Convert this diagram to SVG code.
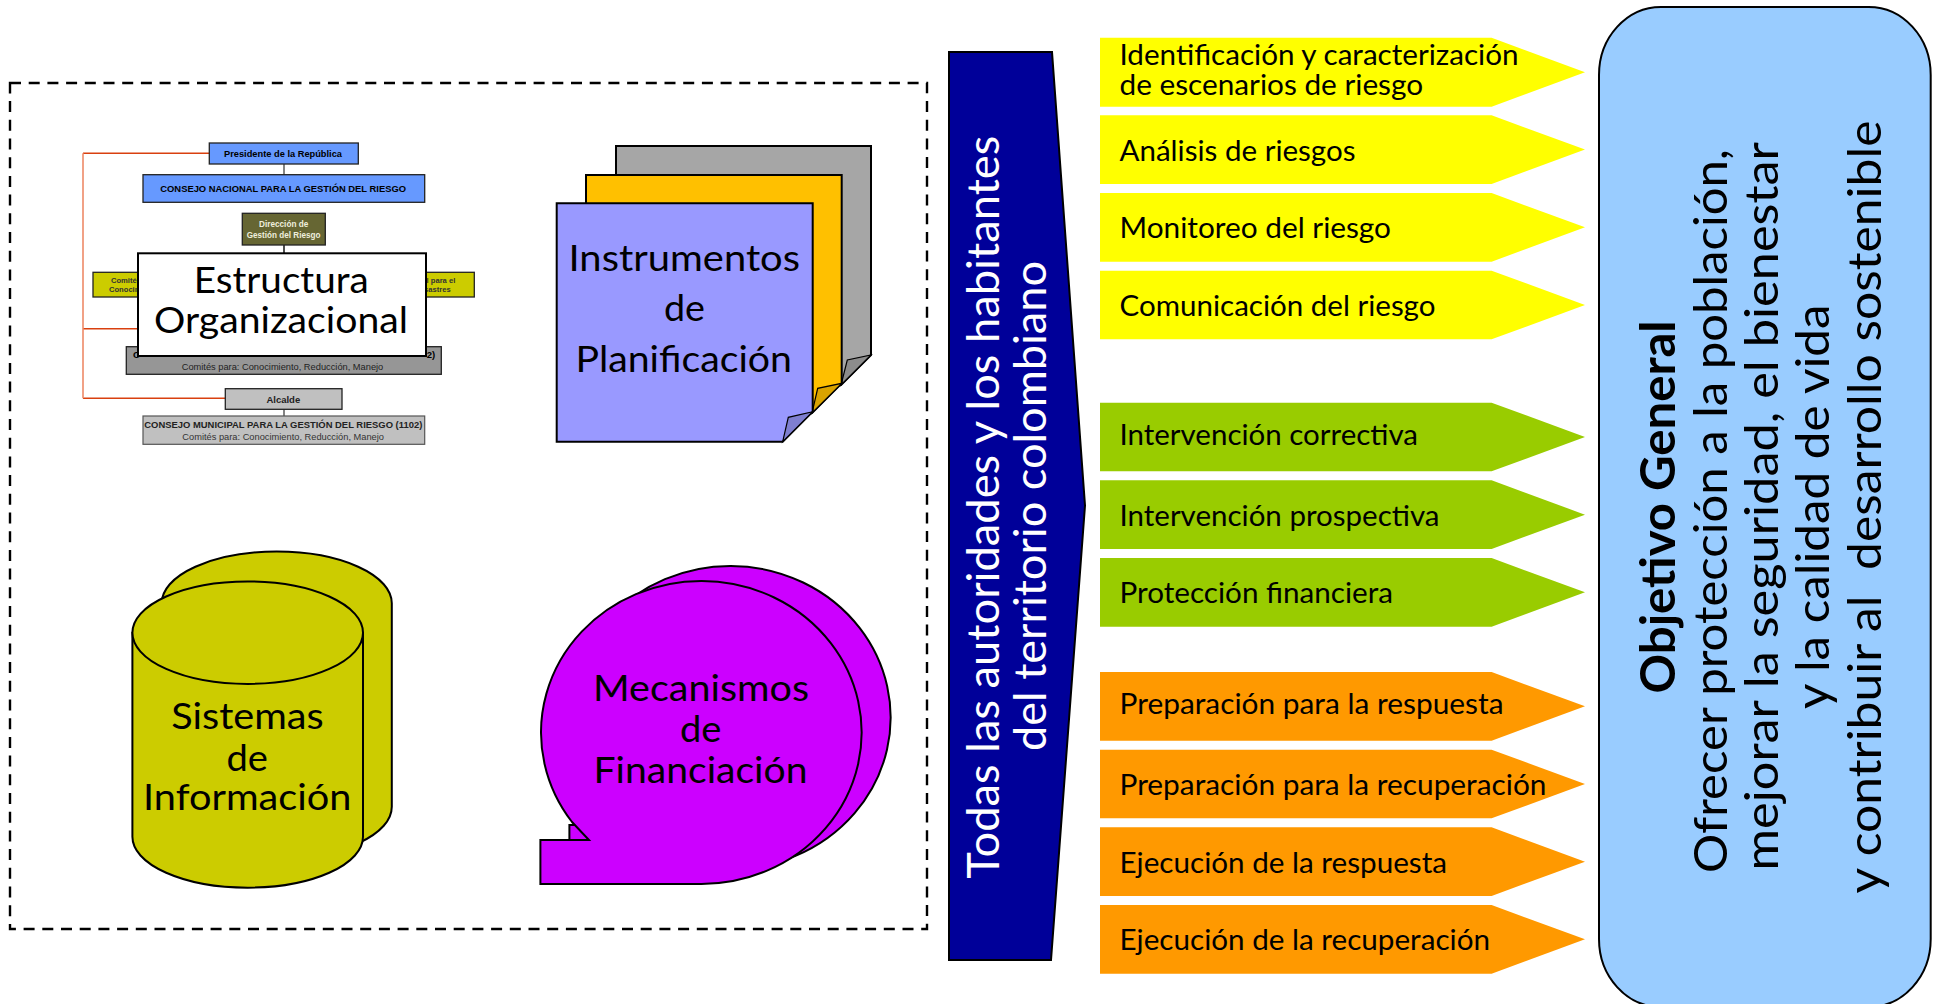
<svg xmlns="http://www.w3.org/2000/svg" width="1936" height="1004" viewBox="0 0 1936 1004">
<style>
text{font-family:"Lato","Carlito","Open Sans",sans-serif;fill:#000;white-space:pre}
.ol{stroke:#000;stroke-width:2}
.org text{font-family:"Liberation Sans",Arial,sans-serif}
.b{font-weight:700}
.s9{font-size:9.5px}
.s8{font-size:8.5px}
.big{font-size:37px}
.ar{font-size:29px}
.wh{font-size:45px;fill:#fff}
.ob{font-size:47px}
.box{stroke:#222;stroke-width:1.3}
.y{fill:#FFFF00}.g{fill:#99CC00}.o{fill:#FF9900}
</style>
<rect width="1936" height="1004" fill="#fff"/>
<rect id="dashed-frame" x="10" y="83" width="917" height="846" fill="none" stroke="#000" stroke-width="2.4" stroke-dasharray="11 7.7"/>

<g id="connectors" fill="none">
<path d="M83 153.3H209.3M83 328.7H138M83 398.3H225.3" stroke="#D9400F" stroke-width="1.4"/>
<path d="M83 153.3V398.3" stroke="#EE8A68" stroke-width="1.6"/>
<path d="M284 164V175M284 409V416" stroke="#666" stroke-width="1.6"/>
<path d="M284 245V254" stroke="#222" stroke-width="1.6"/>
</g>

<g id="org-chart" class="org">
<g id="presidente"><rect class="box" x="209.3" y="143" width="149" height="21" fill="#6699FF"/><text class="b s9" x="224" y="156.7" textLength="118" lengthAdjust="spacingAndGlyphs">Presidente de la República</text></g>
<g id="consejo-nacional"><rect class="box" x="143" y="174.7" width="281.7" height="27.6" fill="#6699FF"/><text class="b s9" x="160.3" y="192" textLength="245.7" lengthAdjust="spacingAndGlyphs">CONSEJO NACIONAL PARA LA GESTIÓN DEL RIESGO</text></g>
<g id="direccion"><rect class="box" x="242.3" y="213.3" width="83" height="31.7" fill="#666633"/><text class="b s8" x="259" y="227" textLength="49.3" lengthAdjust="spacingAndGlyphs" style="fill:#EEEEDD">Dirección de</text><text class="b s8" x="246.7" y="238" textLength="73.7" lengthAdjust="spacingAndGlyphs" style="fill:#EEEEDD">Gestión del Riesgo</text></g>
<g id="comites"><rect class="box" x="93" y="272.3" width="381.3" height="24.7" fill="#CCCC00"/><text class="b" font-size="7.6" x="111" y="283.3" style="fill:#333">Comité</text><text class="b" font-size="7.6" x="109" y="292" style="fill:#333">Conocim</text><text class="b" font-size="7.6" x="455.3" y="283.3" text-anchor="end" style="fill:#333">al para el</text><text class="b" font-size="7.6" x="450.7" y="292" text-anchor="end" style="fill:#333">sastres</text></g>
<g id="consejo-departamental"><rect class="box" x="126.3" y="346.7" width="315" height="27.6" fill="#969696"/><text class="b s9" x="133" y="358">C</text><text class="b s9" x="426.8" y="358">2)</text><text class="s9" x="181.7" y="370" textLength="201.6" lengthAdjust="spacingAndGlyphs" style="fill:#222">Comités para: Conocimiento, Reducción, Manejo</text></g>
<g id="alcalde"><rect class="box" x="225.3" y="388.7" width="116.7" height="20.6" fill="#C0C0C0"/><text class="b s9" x="283.3" y="403" text-anchor="middle" style="fill:#222">Alcalde</text></g>
<g id="consejo-municipal"><rect x="143" y="416" width="281.7" height="28.3" fill="#C0C0C0" stroke="#555" stroke-width="1.2"/><text class="b s9" x="144.3" y="428" textLength="278" lengthAdjust="spacingAndGlyphs" style="fill:#222">CONSEJO MUNICIPAL PARA LA GESTIÓN DEL RIESGO (1102)</text><text class="s9" x="182.3" y="440" textLength="201.7" lengthAdjust="spacingAndGlyphs" style="fill:#333">Comités para: Conocimiento, Reducción, Manejo</text></g>
</g>

<g id="estructura-organizacional">
<rect x="138" y="253.3" width="288" height="102.7" fill="#fff" class="ol"/>
<text class="big" x="193.7" y="292.7" textLength="175" lengthAdjust="spacingAndGlyphs">Estructura</text>
<text class="big" x="154" y="333.3" textLength="254" lengthAdjust="spacingAndGlyphs">Organizacional</text>
</g>

<g id="instrumentos-planificacion">
<path class="ol" fill="#A6A6A6" d="M616 146H871V355L841 385H616Z"/>
<path class="ol" fill="#8C8C8C" style="stroke-width:1.2" d="M841 385L847.3 360L871 355Z"/>
<path class="ol" fill="#FFC000" d="M586 175H841.7V383.3L812 413H586Z"/>
<path class="ol" fill="#D9A300" style="stroke-width:1.2" d="M812 413L817.7 388.3L841.7 383.3Z"/>
<path class="ol" fill="#9999FF" d="M556.7 203.3H812.7V411.7L782.7 441.7H556.7Z"/>
<path class="ol" fill="#7F7FD0" style="stroke-width:1.2" d="M782.7 441.7L788.3 417.3L812.7 411.7Z"/>
<text class="big" x="568.5" y="270.7" textLength="231.5" lengthAdjust="spacingAndGlyphs">Instrumentos</text>
<text class="big" x="664" y="321" textLength="41" lengthAdjust="spacingAndGlyphs">de</text>
<text class="big" x="575.5" y="372.3" textLength="216.5" lengthAdjust="spacingAndGlyphs">Planificación</text>
</g>

<g id="sistemas-informacion">
<path class="ol" fill="#CCCC00" d="M161.7 603.3A115 51.7 0 0 1 391.8 603.3V806.7A115 51.7 0 0 1 161.7 806.7Z"/>
<path class="ol" fill="#CCCC00" d="M132.4 632.7V836.7A115.3 51 0 0 0 363 836.7V632.7Z"/>
<ellipse class="ol" fill="#CCCC00" cx="247.7" cy="632.7" rx="115.3" ry="51.2"/>
<text class="big" x="171.2" y="729.3" textLength="152.5" lengthAdjust="spacingAndGlyphs">Sistemas</text>
<text class="big" x="226.5" y="770.7" textLength="41.5" lengthAdjust="spacingAndGlyphs">de</text>
<text class="big" x="143" y="810" textLength="208.5" lengthAdjust="spacingAndGlyphs">Información</text>
</g>

<g id="mecanismos-financiacion">
<path class="ol" fill="#CC00FF" d="M569.4 869V825H618L601 807A160.3 151.5 0 1 1 729.7 869Z"/>
<path class="ol" fill="#CC00FF" d="M540.4 884V840H589L572 822A160.3 151.5 0 1 1 700.7 884Z"/>
<text class="big" x="593" y="700.7" textLength="216" lengthAdjust="spacingAndGlyphs">Mecanismos</text>
<text class="big" x="680" y="742" textLength="41.5" lengthAdjust="spacingAndGlyphs">de</text>
<text class="big" x="593.5" y="783.3" textLength="214" lengthAdjust="spacingAndGlyphs">Financiación</text>
</g>

<g id="autoridades">
<path class="ol" fill="#000099" d="M949 52H1052L1085 505.5L1051 960H949Z"/>
<text class="wh" transform="translate(999 878.7) rotate(-90)" textLength="743" lengthAdjust="spacingAndGlyphs">Todas las autoridades y los habitantes</text>
<text class="wh" transform="translate(1045.7 751) rotate(-90)" textLength="490" lengthAdjust="spacingAndGlyphs">del territorio colombiano</text>
</g>

<g id="identificacion"><path class="y" d="M1100 37.7H1491.6L1585 72.2L1491.6 106.7H1100Z"/><text class="ar" x="1119.5" y="65" textLength="399" lengthAdjust="spacingAndGlyphs">Identificación y caracterización</text><text class="ar" x="1119.5" y="95" textLength="303.5" lengthAdjust="spacingAndGlyphs">de escenarios de riesgo</text></g>
<g id="analisis"><path class="y" d="M1100 115.3H1491.6L1585 149.6L1491.6 183.9H1100Z"/><text class="ar" x="1119.5" y="161" textLength="236" lengthAdjust="spacingAndGlyphs">Análisis de riesgos</text></g>
<g id="monitoreo"><path class="y" d="M1100 193H1491.6L1585 227.3L1491.6 261.7H1100Z"/><text class="ar" x="1119.5" y="238.3" textLength="271.5" lengthAdjust="spacingAndGlyphs">Monitoreo del riesgo</text></g>
<g id="comunicacion"><path class="y" d="M1100 270.7H1491.6L1585 305L1491.6 339.3H1100Z"/><text class="ar" x="1119.5" y="315.7" textLength="316" lengthAdjust="spacingAndGlyphs">Comunicación del riesgo</text></g>

<g id="correctiva"><path class="g" d="M1100 402.7H1491.6L1585 437L1491.6 471.3H1100Z"/><text class="ar" x="1119.5" y="445" textLength="298.5" lengthAdjust="spacingAndGlyphs">Intervención correctiva</text></g>
<g id="prospectiva"><path class="g" d="M1100 480.3H1491.6L1585 514.7L1491.6 549H1100Z"/><text class="ar" x="1119.5" y="525.5" textLength="320" lengthAdjust="spacingAndGlyphs">Intervención prospectiva</text></g>
<g id="financiera"><path class="g" d="M1100 558H1491.6L1585 592.3L1491.6 626.7H1100Z"/><text class="ar" x="1119.5" y="602.7" textLength="273.5" lengthAdjust="spacingAndGlyphs">Protección financiera</text></g>

<g id="prep-respuesta"><path class="o" d="M1100 672H1491.6L1585 706.3L1491.6 740.7H1100Z"/><text class="ar" x="1119.5" y="713.8" textLength="384" lengthAdjust="spacingAndGlyphs">Preparación para la respuesta</text></g>
<g id="prep-recuperacion"><path class="o" d="M1100 749.7H1491.6L1585 784L1491.6 818.3H1100Z"/><text class="ar" x="1119.5" y="794.8" textLength="427" lengthAdjust="spacingAndGlyphs">Preparación para la recuperación</text></g>
<g id="ejec-respuesta"><path class="o" d="M1100 827.3H1491.6L1585 861.7L1491.6 896H1100Z"/><text class="ar" x="1119.5" y="872.7" textLength="327.5" lengthAdjust="spacingAndGlyphs">Ejecución de la respuesta</text></g>
<g id="ejec-recuperacion"><path class="o" d="M1100 905H1491.6L1585 939.3L1491.6 973.7H1100Z"/><text class="ar" x="1119.5" y="949.8" textLength="370.5" lengthAdjust="spacingAndGlyphs">Ejecución de la recuperación</text></g>

<g id="objetivo-general">
<rect class="ol" x="1599" y="7" width="331.7" height="1000" rx="62" ry="68" fill="#99CCFF"/>
<text class="ob b" transform="translate(1675 693.5) rotate(-90)" textLength="373" lengthAdjust="spacingAndGlyphs">Objetivo General</text>
<text class="ob" transform="translate(1726.7 873) rotate(-90)" textLength="724" lengthAdjust="spacingAndGlyphs">Ofrecer protección a la población,</text>
<text class="ob" transform="translate(1778 870.5) rotate(-90)" textLength="728.5" lengthAdjust="spacingAndGlyphs">mejorar la seguridad, el bienestar</text>
<text class="ob" transform="translate(1829 709) rotate(-90)" textLength="404.5" lengthAdjust="spacingAndGlyphs">y la calidad de vida</text>
<text class="ob" transform="translate(1881 893.5) rotate(-90)" textLength="773" lengthAdjust="spacingAndGlyphs">y contribuir al  desarrollo sostenible</text>
</g>
</svg>
